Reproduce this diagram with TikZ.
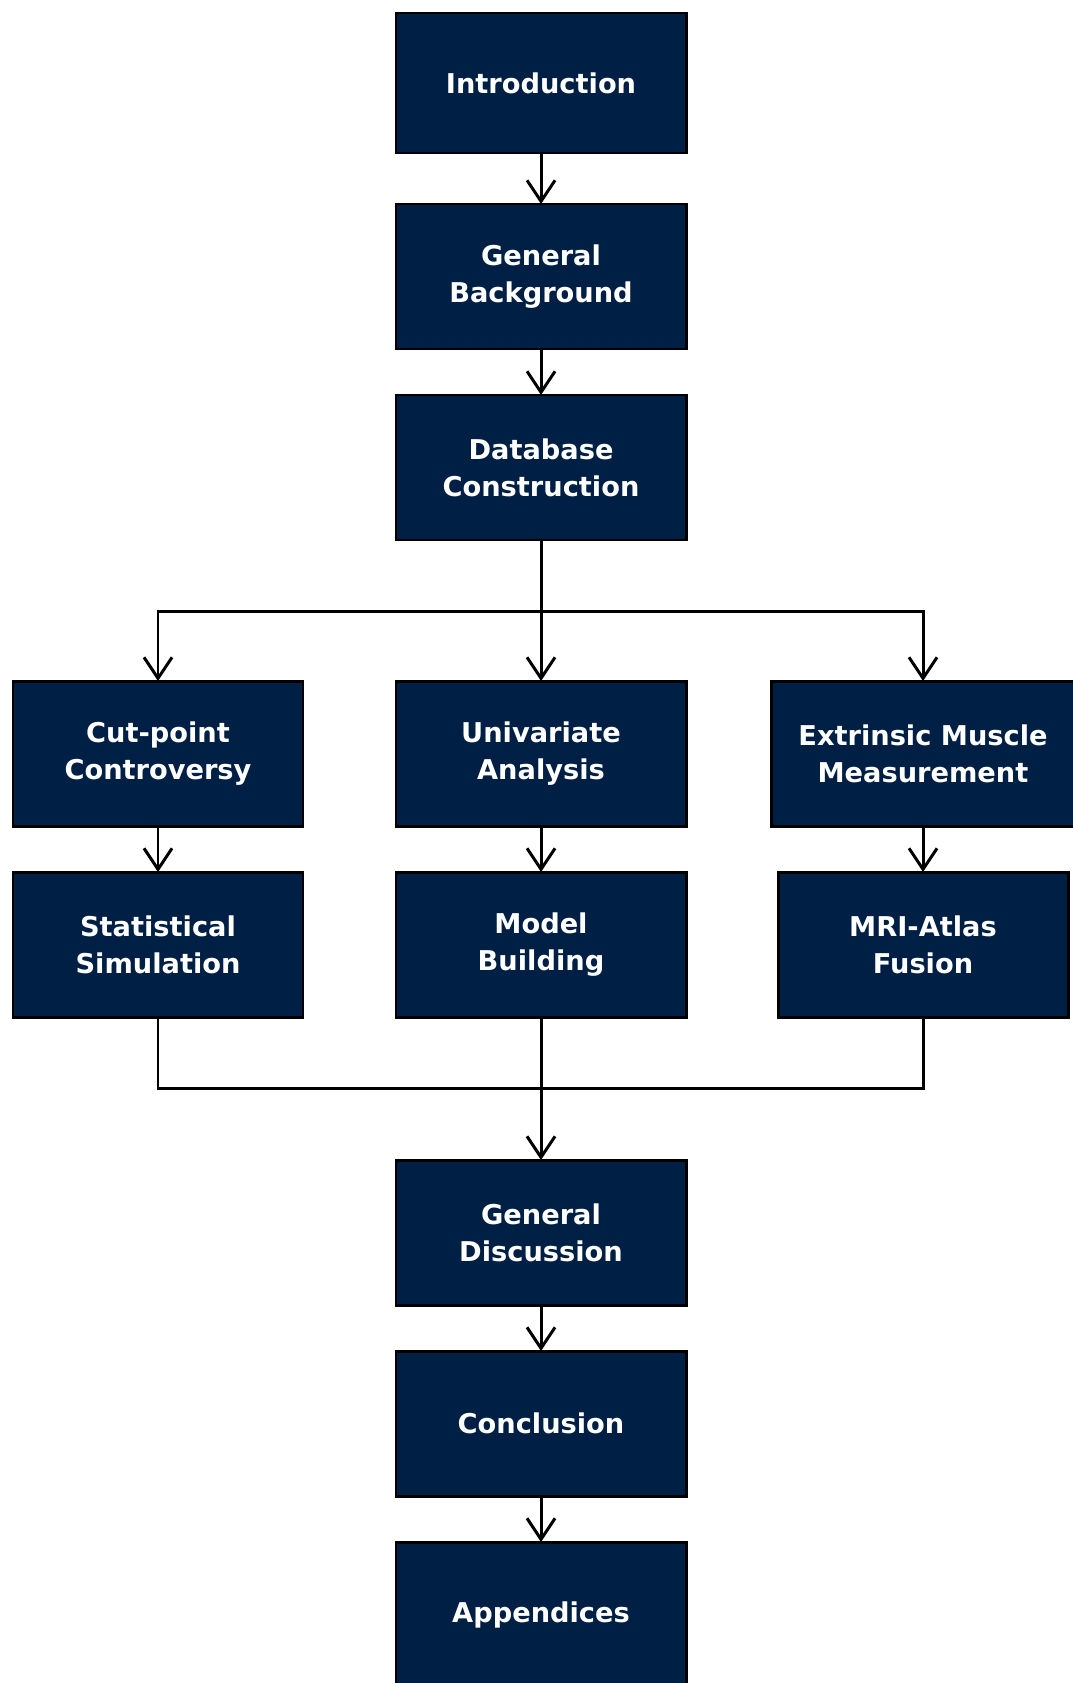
\documentclass[tikz,border=0pt]{standalone}
\usepackage{fontspec}
\setmainfont{DejaVu Sans}
\usetikzlibrary{arrows.meta, positioning}
\definecolor{navyblue}{HTML}{001F45}

\begin{document}
\begin{tikzpicture}[node distance=0.92cm]
% Define styles
\tikzstyle{chapter} = [rectangle, minimum width=5.8cm, minimum height=2.9cm, align=center, draw=black, line width=1.7pt, outer sep=0pt, fill=navyblue, text=white, font=\fontsize{15.5}{21}\selectfont\bfseries]
\tikzstyle{arrow} = [line width=1.7pt, -{Straight Barb[length=0.42cm, width=0.56cm]}]
\tikzstyle{line} = [line width=1.7pt]

\useasboundingbox (0,0) rectangle (21.46,-33.66);

% Nodes
\node (intro) [chapter, minimum height=2.8cm] at (10.82,-1.66) {Introduction};
\node (background) [chapter, below=1.02cm of intro] {General\\Background};
\node (database) [chapter, below=of background] {Database\\Construction};
\node (univariate) [chapter, below=2.82cm of database] {Univariate\\Analysis};
\node (cutpoint) [chapter, left=1.86cm of univariate] {Cut-point\\Controversy};
\node (extrinsic) [chapter, minimum width=6.08cm, right=1.7cm of univariate] {Extrinsic Muscle\\Measurement};
\node (model) [chapter, below=of univariate] {Model\\Building};
\node (simulation) [chapter, below=of cutpoint] {Statistical\\Simulation};
\node (fusion) [chapter, below=of extrinsic] {MRI-Atlas\\Fusion};
\node (discussion) [chapter, below=2.86cm of model] {General\\Discussion};
\node (conclusion) [chapter, below=of discussion] {Conclusion};
\node (appendices) [chapter, below=of conclusion] {Appendices};

\coordinate (split) at ([yshift=-1.42cm]database.south);
\coordinate (merge) at ([yshift=-1.42cm]model.south);

% Arrows
\draw[arrow] (intro) -- (background);
\draw[arrow] (background) -- (database);
\draw[arrow] (database) -- (univariate);
\draw[arrow] (split) -| (cutpoint);
\draw[arrow] (split) -| (extrinsic);
\draw[arrow] (cutpoint) -- (simulation);
\draw[arrow] (univariate) -- (model);
\draw[arrow] (extrinsic) -- (fusion);
\draw[line] (simulation) |- (merge);
\draw[line] (fusion) |- (merge);
\draw[arrow] (model) -- (discussion);
\draw[arrow] (discussion) -- (conclusion);
\draw[arrow] (conclusion) -- (appendices);
\end{tikzpicture}
\end{document}
